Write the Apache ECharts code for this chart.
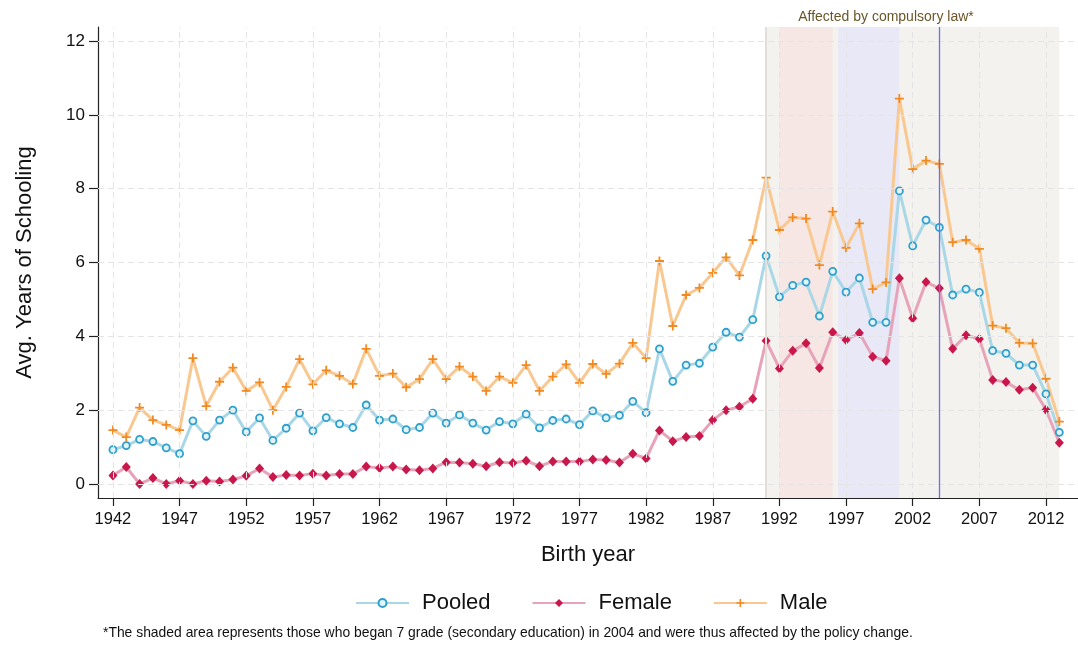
<!DOCTYPE html>
<html>
<head>
<meta charset="utf-8">
<title>Avg. Years of Schooling by birth year</title>
<script src="https://cdn.jsdelivr.net/npm/echarts@6/dist/echarts.min.js"></script>
<style>
  html, body { margin: 0; padding: 0; background: #fff; }
  #chart { width: 1078px; height: 646px; }
</style>
</head>
<body>
<div id="chart"></div>
<script>
// Data
var years = [1942, 1943, 1944, 1945, 1946, 1947, 1948, 1949, 1950, 1951,
  1952, 1953, 1954, 1955, 1956, 1957, 1958, 1959, 1960, 1961,
  1962, 1963, 1964, 1965, 1966, 1967, 1968, 1969, 1970, 1971,
  1972, 1973, 1974, 1975, 1976, 1977, 1978, 1979, 1980, 1981,
  1982, 1983, 1984, 1985, 1986, 1987, 1988, 1989, 1990, 1991,
  1992, 1993, 1994, 1995, 1996, 1997, 1998, 1999, 2000, 2001,
  2002, 2003, 2004, 2005, 2006, 2007, 2008, 2009, 2010, 2011,
  2012, 2013];

var pooled = [0.93, 1.04, 1.21, 1.15, 0.98, 0.82, 1.71, 1.29, 1.73, 2.00,
  1.41, 1.79, 1.18, 1.51, 1.92, 1.44, 1.80, 1.63, 1.53, 2.14,
  1.73, 1.76, 1.47, 1.53, 1.92, 1.65, 1.87, 1.65, 1.46, 1.69,
  1.63, 1.89, 1.52, 1.72, 1.76, 1.61, 1.98, 1.79, 1.86, 2.24,
  1.93, 3.66, 2.78, 3.22, 3.27, 3.71, 4.11, 3.98, 4.45, 6.18,
  5.07, 5.38, 5.47, 4.55, 5.76, 5.20, 5.58, 4.38, 4.38, 7.94,
  6.45, 7.15, 6.95, 5.12, 5.28, 5.19, 3.61, 3.54, 3.22, 3.22,
  2.44, 1.40];

var female = [0.23, 0.46, 0.00, 0.16, 0.00, 0.09, 0.00, 0.09, 0.07, 0.12,
  0.22, 0.42, 0.19, 0.24, 0.23, 0.28, 0.23, 0.27, 0.27, 0.47,
  0.43, 0.47, 0.39, 0.37, 0.42, 0.59, 0.58, 0.55, 0.48, 0.59,
  0.57, 0.63, 0.48, 0.61, 0.61, 0.61, 0.66, 0.65, 0.58, 0.82,
  0.69, 1.45, 1.16, 1.27, 1.30, 1.73, 2.00, 2.09, 2.31, 3.88,
  3.13, 3.61, 3.81, 3.14, 4.11, 3.90, 4.09, 3.45, 3.34, 5.57,
  4.49, 5.47, 5.30, 3.66, 4.03, 3.93, 2.82, 2.76, 2.55, 2.61,
  2.01, 1.12];

var male = [1.46, 1.27, 2.07, 1.73, 1.60, 1.46, 3.41, 2.11, 2.77, 3.15,
  2.52, 2.75, 2.00, 2.63, 3.38, 2.70, 3.08, 2.93, 2.71, 3.66,
  2.93, 2.99, 2.62, 2.84, 3.38, 2.84, 3.18, 2.91, 2.52, 2.91,
  2.74, 3.22, 2.52, 2.91, 3.24, 2.74, 3.25, 2.98, 3.26, 3.82,
  3.41, 6.04, 4.28, 5.12, 5.31, 5.72, 6.14, 5.65, 6.61, 8.30,
  6.88, 7.22, 7.19, 5.93, 7.38, 6.40, 7.06, 5.28, 5.46, 10.44,
  8.53, 8.76, 8.67, 6.55, 6.61, 6.37, 4.29, 4.22, 3.82, 3.81,
  2.85, 1.69];

var xTicks = [1942, 1947, 1952, 1957, 1962, 1967, 1972, 1977, 1982, 1987,
  1992, 1997, 2002, 2007, 2012];
var yTicks = [0, 2, 4, 6, 8, 10, 12];

// periods shown as shaded bands
var lawPeriod = [1991, 2013];
var civilWar = [1992, 1996];
var taliban = [1996.4, 2001];
var constitutionYear = 2004;

var FONT = '"Liberation Sans", Arial, Helvetica, sans-serif';

function pairs(values) {
  return years.map(function (y, i) { return [y, values[i]]; });
}

var plusPath = 'path://M0,4H10V6H0Z M4,0H6V10H4Z';

var chart = echarts.init(document.getElementById('chart'), null, { renderer: 'canvas' });

var gridStyle = { color: '#e4e4e4', width: 1, type: [6, 4] };

var gridLines = yTicks.map(function (v) { return { yAxis: v }; })
  .concat(xTicks.map(function (v) { return { xAxis: v }; }));

var option = {
  animation: false,
  backgroundColor: '#fff',
  grid: { left: 98, right: 0, top: 27, bottom: 148 },
  xAxis: {
    type: 'value',
    min: 1940.88,
    max: 2014.4,
    name: 'Birth year',
    nameLocation: 'middle',
    nameGap: 46,
    nameTextStyle: { fontFamily: FONT, fontSize: 22, color: '#111' },
    axisLine: { onZero: false, lineStyle: { color: '#222', width: 1.2 } },
    axisTick: { show: true, length: 8, customValues: xTicks, lineStyle: { color: '#222', width: 1.2 } },
    axisLabel: { customValues: xTicks, margin: 13, fontFamily: FONT, fontSize: 16.5, color: '#111',
      formatter: function (v) { return String(v); } },
    splitLine: { show: false }
  },
  yAxis: {
    type: 'value',
    min: -0.38,
    max: 12.38,
    name: 'Avg. Years of Schooling',
    nameLocation: 'middle',
    nameGap: 62,
    nameRotate: 90,
    nameTextStyle: { fontFamily: FONT, fontSize: 22, color: '#111' },
    axisLine: { show: true, onZero: false, lineStyle: { color: '#222', width: 1.2 } },
    axisTick: { show: true, length: 9, customValues: yTicks, lineStyle: { color: '#222', width: 1.2 } },
    axisLabel: { customValues: yTicks, margin: 13, fontFamily: FONT, fontSize: 17, color: '#111' },
    splitLine: { show: false }
  },
  legend: {
    data: ['Pooled', 'Female', 'Male'],
    left: 350,
    top: 587,
    itemWidth: 53,
    itemHeight: 10,
    itemGap: 41,
    textStyle: { fontFamily: FONT, fontSize: 22, color: '#111', padding: [0, 0, 0, 8] }
  },
  graphic: [
    { type: 'text', x: 886, y: 17, style: { text: 'Affected by compulsory law*', fill: '#6a5528',
      font: '14px ' + FONT, textAlign: 'center', textVerticalAlign: 'middle' } },
    { type: 'text', x: 808, y: 78, rotation: Math.PI / 2, style: { text: 'Civil war', fill: '#e3232b',
      font: '14px ' + FONT, textAlign: 'center', textVerticalAlign: 'middle' } },
    { type: 'text', x: 875, y: 78, rotation: Math.PI / 2, style: { text: 'Taliban regime', fill: '#2424c8',
      font: '14px ' + FONT, textAlign: 'center', textVerticalAlign: 'middle' } },
    { type: 'text', x: 954, y: 86, rotation: Math.PI / 2, style: { text: '2004 Constitution', fill: '#8a8ae8',
      font: '14px ' + FONT, textAlign: 'center', textVerticalAlign: 'middle' } },
    { type: 'text', left: 103, top: 626, style: {
      text: '*The shaded area represents those who began 7 grade (secondary education) in 2004 and were thus affected by the policy change.',
      fill: '#111', font: '13.9px ' + FONT } }
  ],
  series: [
    {
      // shaded periods
      type: 'line', name: 'bands', data: [[1942, 0]], symbol: 'none', silent: true,
      lineStyle: { width: 0 }, z: 1,
      markArea: {
        silent: true,
        data: [
          [{ xAxis: lawPeriod[0], itemStyle: { color: '#f4f2ee' } }, { xAxis: lawPeriod[1] }],
          [{ xAxis: civilWar[0], itemStyle: { color: '#f7e7e4' } }, { xAxis: civilWar[1] }],
          [{ xAxis: taliban[0], itemStyle: { color: '#e9e8f6' } }, { xAxis: taliban[1] }]
        ]
      },
      markLine: {
        silent: true, symbol: 'none', label: { show: false },
        lineStyle: { color: '#e2dfda', width: 2, type: 'solid' },
        data: [{ xAxis: lawPeriod[0] }]
      }
    },
    {
      // dashed grid and the 2004 line
      type: 'line', name: 'grid', data: [[1942, 0]], symbol: 'none', silent: true,
      lineStyle: { width: 0 }, z: 2,
      markLine: {
        silent: true, symbol: 'none', label: { show: false },
        lineStyle: gridStyle,
        data: gridLines.concat([{
          xAxis: constitutionYear,
          lineStyle: { color: '#6e6ef5', width: 1.3, type: 'solid' }
        }])
      }
    },
    {
      name: 'Pooled', type: 'line', data: pairs(pooled), z: 4,
      symbol: 'circle', symbolSize: 7, showAllSymbol: true,
      lineStyle: { color: '#a9d7e6', width: 3 },
      itemStyle: { color: '#e4f3f8', borderColor: '#2f9fcc', borderWidth: 1.8 }
    },
    {
      name: 'Female', type: 'line', data: pairs(female), z: 4,
      symbol: 'diamond', symbolSize: [9, 10], showAllSymbol: true,
      lineStyle: { color: '#e6a3b9', width: 3 },
      itemStyle: { color: '#c8174a' }
    },
    {
      name: 'Male', type: 'line', data: pairs(male), z: 4,
      symbol: plusPath, symbolSize: 9, showAllSymbol: true,
      lineStyle: { color: '#f9c891', width: 3 },
      itemStyle: { color: '#f28a22' }
    }
  ]
};

chart.setOption(option);
window.addEventListener('resize', chart.resize);
</script>
</body>
</html>
